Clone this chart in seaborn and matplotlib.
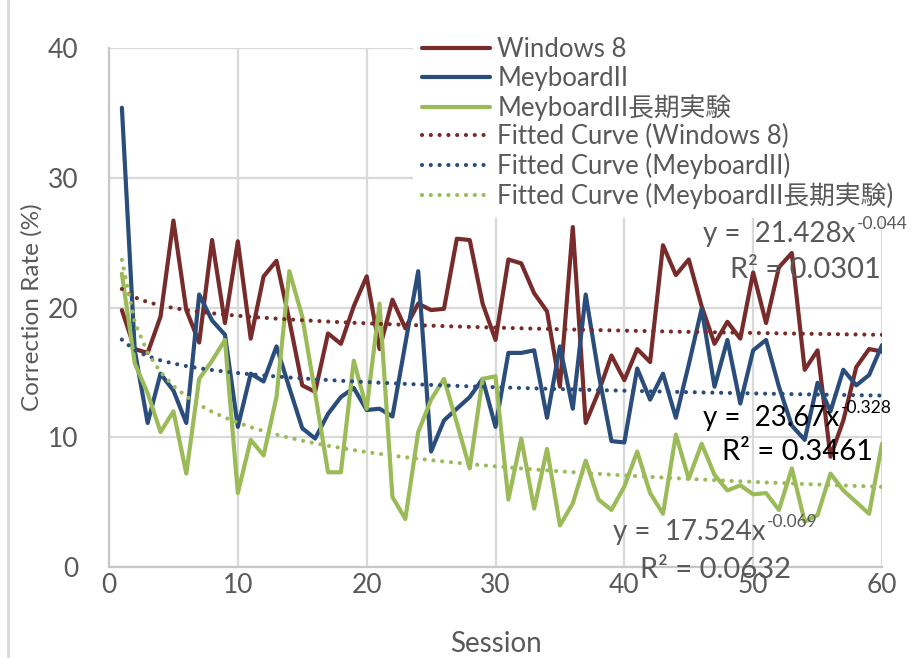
import numpy as np
import pandas as pd
import matplotlib
matplotlib.use("Agg")
import matplotlib.pyplot as plt
from matplotlib.lines import Line2D
import seaborn as sns

# ---- data -------------------------------------------------------------
sessions = list(range(1, 61))

windows8 = [19.8, 16.8, 16.5, 19.3, 26.7, 19.8, 17.3, 25.2, 18.8, 25.1,
            17.6, 22.4, 23.6, 19.0, 14.0, 13.5, 18.0, 17.2, 20.1, 22.4,
            16.8, 20.6, 18.4, 20.3, 19.8, 19.9, 25.3, 25.2, 20.3, 17.5,
            23.7, 23.4, 21.1, 19.7, 13.9, 26.2, 11.1, 13.5, 16.3, 14.4,
            16.8, 15.8, 24.8, 22.5, 23.7, 20.1, 17.2, 18.9, 17.6, 22.7,
            18.8, 23.1, 24.2, 15.2, 16.7, 8.5, 11.3, 15.4, 16.8, 16.6]

meyboard = [35.4, 16.7, 11.1, 14.9, 13.6, 11.1, 21.0, 19.0, 17.9, 10.8,
            14.9, 14.3, 17.0, 13.8, 10.7, 9.9, 11.8, 13.1, 13.8, 12.1,
            12.2, 11.6, 17.2, 22.8, 8.9, 11.3, 12.2, 13.1, 14.5, 10.8,
            16.5, 16.5, 16.7, 11.5, 17.0, 12.2, 21.0, 14.9, 9.7, 9.6,
            15.3, 12.9, 14.9, 11.5, 15.6, 19.9, 13.9, 17.5, 12.6, 16.7,
            17.5, 13.9, 10.9, 9.8, 14.2, 12.0, 15.2, 14.0, 14.8, 17.1]

long_term = [22.6, 15.7, 13.4, 10.4, 12.0, 7.2, 14.5, 15.9, 17.5, 5.7,
             9.8, 8.6, 13.1, 22.8, 19.3, 13.4, 7.3, 7.3, 15.9, 12.2,
             20.3, 5.4, 3.7, 10.4, 12.9, 14.5, 11.1, 7.6, 14.5, 14.7,
             5.2, 9.9, 4.5, 9.1, 3.2, 4.9, 8.2, 5.2, 4.4, 6.2,
             8.9, 5.7, 4.1, 10.2, 6.8, 9.5, 7.1, 5.9, 6.3, 5.6,
             5.7, 4.4, 7.6, 3.5, 4.0, 7.2, 5.9, 5.0, 4.1, 9.5]

series_names = ["Windows 8", "MeyboardII", "MeyboardII長期実験"]
fit_names = ["Fitted Curve (Windows 8)", "Fitted Curve (MeyboardII)",
             "Fitted Curve (MeyboardII長期実験)"]
# power-law trendlines y = a * x^b
fit_a = [21.428, 17.524, 23.67]
fit_b = [-0.044, -0.069, -0.328]
fit_r2 = ["0.0301", "0.0632", "0.3461"]

x_ticks = [0, 10, 20, 30, 40, 50, 60]
y_ticks = [0, 10, 20, 30, 40]

colors = ["#772B2A", "#2A4D7C", "#9BBB59"]

# ---- style ------------------------------------------------------------
sns.set_theme(style="white")
plt.rcParams["font.family"] = ["Lato", "Noto Sans CJK JP", "DejaVu Sans"]
text_grey = "#595959"
grid_grey = "#D9D9D9"

fig = plt.figure(figsize=(9.14, 6.58), dpi=100)
ax = fig.add_axes([109 / 914, 1 - 567 / 658, 773 / 914, 519 / 658])

df = pd.DataFrame({
    "Session": sessions * 3,
    "Rate": windows8 + meyboard + long_term,
    "Series": sum([[n] * len(sessions) for n in series_names], []),
})

sns.lineplot(data=df, x="Session", y="Rate", hue="Series",
             hue_order=series_names, palette=colors, lw=3.0,
             legend=False, ax=ax, zorder=3)

# trendlines, drawn as round dotted lines
xs = np.array(sessions, dtype=float)
for a, b, c in zip(fit_a, fit_b, colors):
    sns.lineplot(x=xs, y=a * xs ** b, color=c, lw=3.0,
                 linestyle=(0, (0.01, 2.1)), dash_capstyle="round",
                 ax=ax, zorder=4)

ax.set_xlim(0, 60)
ax.set_ylim(0, 40)
ax.set_xticks(x_ticks)
ax.set_yticks(y_ticks)
ax.grid(True, color=grid_grey, lw=1.6)
ax.set_axisbelow(True)
for side in ["top", "right"]:
    ax.spines[side].set_visible(False)
for side in ["left", "bottom"]:
    ax.spines[side].set_color("#C8C8C8")
    ax.spines[side].set_linewidth(1.6)
ax.tick_params(axis="both", length=0, labelsize=19, colors=text_grey)
ax.tick_params(axis="y", pad=22)
ax.tick_params(axis="x", pad=4)
ax.set_xlabel("Session", fontsize=20, color=text_grey, labelpad=24)
ax.set_ylabel("Correction Rate (%)", fontsize=17.5, color=text_grey, labelpad=4)

# legend
handles = [Line2D([], [], color=c, lw=3.0, solid_capstyle="round") for c in colors]
handles += [Line2D([], [], color=c, lw=3.0, linestyle=(0, (0.01, 2.1)),
                   dash_capstyle="round") for c in colors]
leg = ax.legend(handles, series_names + fit_names, loc="upper left",
                bbox_to_anchor=(413 / 914, 1 - 28 / 658),
                bbox_transform=fig.transFigure, borderaxespad=0,
                frameon=True, facecolor="white", edgecolor="none",
                framealpha=1.0, fontsize=18.5, handlelength=2.65,
                handletextpad=0.28, labelspacing=0.14, borderpad=0.35)
for t in leg.get_texts():
    t.set_color(text_grey)
leg.set_zorder(5)

# trendline equations: base text, small raised exponent, R² line
renderer = fig.canvas.get_renderer()

def equation(px, py, rpx, rpy, a, b, r2, color):
    base = fig.text(px / 914, 1 - py / 658, f"y =  {a}x", fontsize=20,
                    color=color, va="center", ha="left", zorder=6)
    bb = base.get_window_extent(renderer)
    fig.text((bb.x1 + 1) / 914, (bb.y1 - 3) / 658, f"{b}", fontsize=12.5,
             color=color, va="center", ha="left", zorder=6)
    fig.text(rpx / 914, 1 - rpy / 658, f"R² = {r2}", fontsize=21,
             color=color, va="center", ha="left", zorder=6)

for (px, py, rpx, rpy, i, col) in [
        (703, 234, 730, 270, 0, text_grey),
        (703, 418, 722, 452, 2, "black"),
        (613, 532, 640, 570, 1, text_grey)]:
    equation(px, py, rpx, rpy, fit_a[i], fit_b[i], fit_r2[i], col)

# outer chart border on the left
fig.add_artist(Line2D([8 / 914, 8 / 914], [0, 1], color=grid_grey, lw=2,
                      transform=fig.transFigure))

fig.savefig("out.png", dpi=100)
